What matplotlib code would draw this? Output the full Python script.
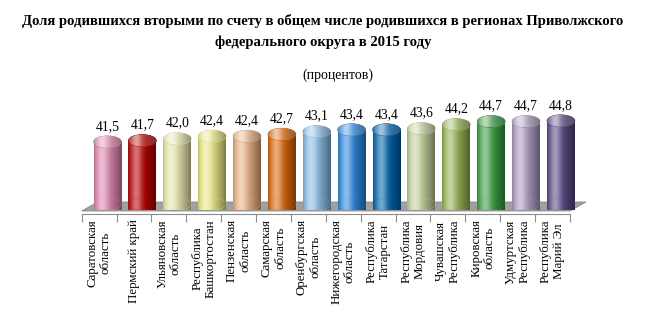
import numpy as np
import matplotlib
matplotlib.use("Agg")
import matplotlib.pyplot as plt
from matplotlib.patches import Ellipse, Polygon
from matplotlib.transforms import IdentityTransform
from matplotlib.colors import to_rgb

plt.rcParams['font.family'] = ['Liberation Serif', 'DejaVu Serif']

regions = [
    "Саратовская\nобласть", "Пермский край", "Ульяновская\nобласть",
    "Республика\nБашкортостан", "Пензенская\nобласть", "Самарская\nобласть",
    "Оренбургская\nобласть", "Нижегородская\nобласть", "Республика\nТатарстан",
    "Республика\nМордовия", "Чувашская\nРеспублика", "Кировская\nобласть",
    "Удмуртская\nРеспублика", "Республика\nМарий Эл",
]
values = [41.5, 41.7, 42.0, 42.4, 42.4, 42.7, 43.1, 43.4, 43.4, 43.6, 44.2, 44.7, 44.7, 44.8]
colors = ["#E98DB6", "#C00000", "#F2F2B4", "#F5F58C", "#F6B989", "#E46C0A",
          "#90C6F2", "#2F8DE8", "#0068B4", "#CADDA2", "#9BBB59", "#3DA547",
          "#B5A3CB", "#5E4A89"]

title = ("Доля родившихся вторыми по счету в общем числе родившихся в регионах Приволжского\n"
         "федерального округа в 2015 году")
subtitle = "(процентов)"

W, H, DPI = 646, 335, 100
fig = plt.figure(figsize=(W / DPI, H / DPI), dpi=DPI)
fig.patch.set_facecolor("white")

ax = fig.add_axes([81.7 / W, (H - 204) / H, 488.3 / W, (204 - 95) / H])
base = 31.75
top_lim = 48.85
n = len(values)
ax.set_xlim(-0.5, n - 0.5)
ax.set_ylim(base, top_lim)
for s in ("top", "right", "left"):
    ax.spines[s].set_visible(False)
ax.spines["bottom"].set_position(("outward", 7))
ax.spines["bottom"].set_color("#8C8C8C")
ax.spines["bottom"].set_linewidth(0.8)
ax.set_yticks([])

ax.set_xticks(np.arange(-0.5, n, 1.0))
ax.set_xticklabels([])
ax.set_xticks(np.arange(n), minor=True)
ax.set_xticklabels(regions, minor=True)
ax.tick_params(axis="x", which="major", direction="out", length=6, color="#8C8C8C", width=0.8)
ax.tick_params(axis="x", which="minor", length=0, pad=4, labelsize=9.3)
for lbl in ax.get_xticklabels(minor=True):
    lbl.set_rotation(90)
    lbl.set_va("top")
    lbl.set_ha("center")
    lbl.set_multialignment("center")
    lbl.set_linespacing(1.15)

# pixel scale of the data axes
fig.canvas.draw()
p0 = ax.transData.transform((0, base))
p1 = ax.transData.transform((1, base + 1))
px_y = p1[1] - p0[1]

# floor of the chart (perspective slab)
fl = ax.transData.transform((-0.5, base))
fr = ax.transData.transform((n - 0.5, base))
floor = Polygon([(fl[0], fl[1] - 7), (fr[0], fr[1] - 7), (fr[0] + 16, fr[1] + 2), (fl[0] + 16, fl[1] + 2)],
                closed=True, transform=IdentityTransform(), facecolor="#A0A0A0",
                edgecolor="#8A8A8A", linewidth=0.6, zorder=1, clip_on=False)
ax.add_patch(floor)


def shade_profile(rgb, lighten=0.0):
    t = np.linspace(0, 1, 256)
    hl = np.exp(-((t - 0.3) / 0.2) ** 2)
    dark = 0.5 * t ** 2.0 + 0.25 * (1 - t) ** 8
    c = np.array(rgb)[None, :] * (1 - dark)[:, None]
    c = c + (1 - c) * (0.45 * hl + lighten)[:, None]
    return np.clip(c, 0, 1)[None, :, :]


def unclip(artist):
    artist.set_clip_box(fig.bbox)


bw = 0.8
shift = 0.24
ell_h = 12.0 / px_y
for i, (v, col) in enumerate(zip(values, colors)):
    xc = i + shift
    rgb = to_rgb(col)
    grad = shade_profile(rgb)
    bars = ax.bar(xc, v - base, bottom=base, width=bw, color=col, linewidth=0, zorder=3)
    rect = bars[0]
    unclip(rect)
    im = ax.imshow(grad, extent=[xc - bw / 2, xc + bw / 2, base - ell_h / 2, v],
                   aspect="auto", zorder=3, interpolation="bilinear")
    im.set_clip_path(rect)
    unclip(im)
    bot = Ellipse((xc, base), bw, ell_h, facecolor=col, linewidth=0, zorder=3)
    ax.add_patch(bot)
    unclip(bot)
    im2 = ax.imshow(grad, extent=[xc - bw / 2, xc + bw / 2, base - ell_h / 2, base + ell_h / 2],
                    aspect="auto", zorder=3, interpolation="bilinear")
    im2.set_clip_path(bot)
    unclip(im2)
    top = Ellipse((xc, v), bw, ell_h, facecolor=col, linewidth=0.5,
                  edgecolor=tuple(np.array(rgb) * 0.85), zorder=4)
    ax.add_patch(top)
    unclip(top)
    tgrad = shade_profile(rgb, lighten=0.18)
    im3 = ax.imshow(tgrad, extent=[xc - bw / 2, xc + bw / 2, v - ell_h / 2, v + ell_h / 2],
                    aspect="auto", zorder=4, interpolation="bilinear")
    im3.set_clip_path(top)
    unclip(im3)
    ax.annotate(f"{v:.1f}".replace(".", ","), (xc, v), xytext=(0, 6.5), textcoords="offset points",
                ha="center", va="bottom", fontsize=9.8, zorder=5, annotation_clip=False)

ax.set_xlim(-0.5, n - 0.5)
ax.set_ylim(base, top_lim)

fig.text(0.5, 1 - 14 / H, title, ha="center", va="top", fontsize=10.5, fontweight="bold",
         linespacing=1.75)
fig.text(338 / W, 1 - 75 / H, subtitle, ha="center", va="center", fontsize=10)

fig.savefig("out.png", dpi=DPI)
